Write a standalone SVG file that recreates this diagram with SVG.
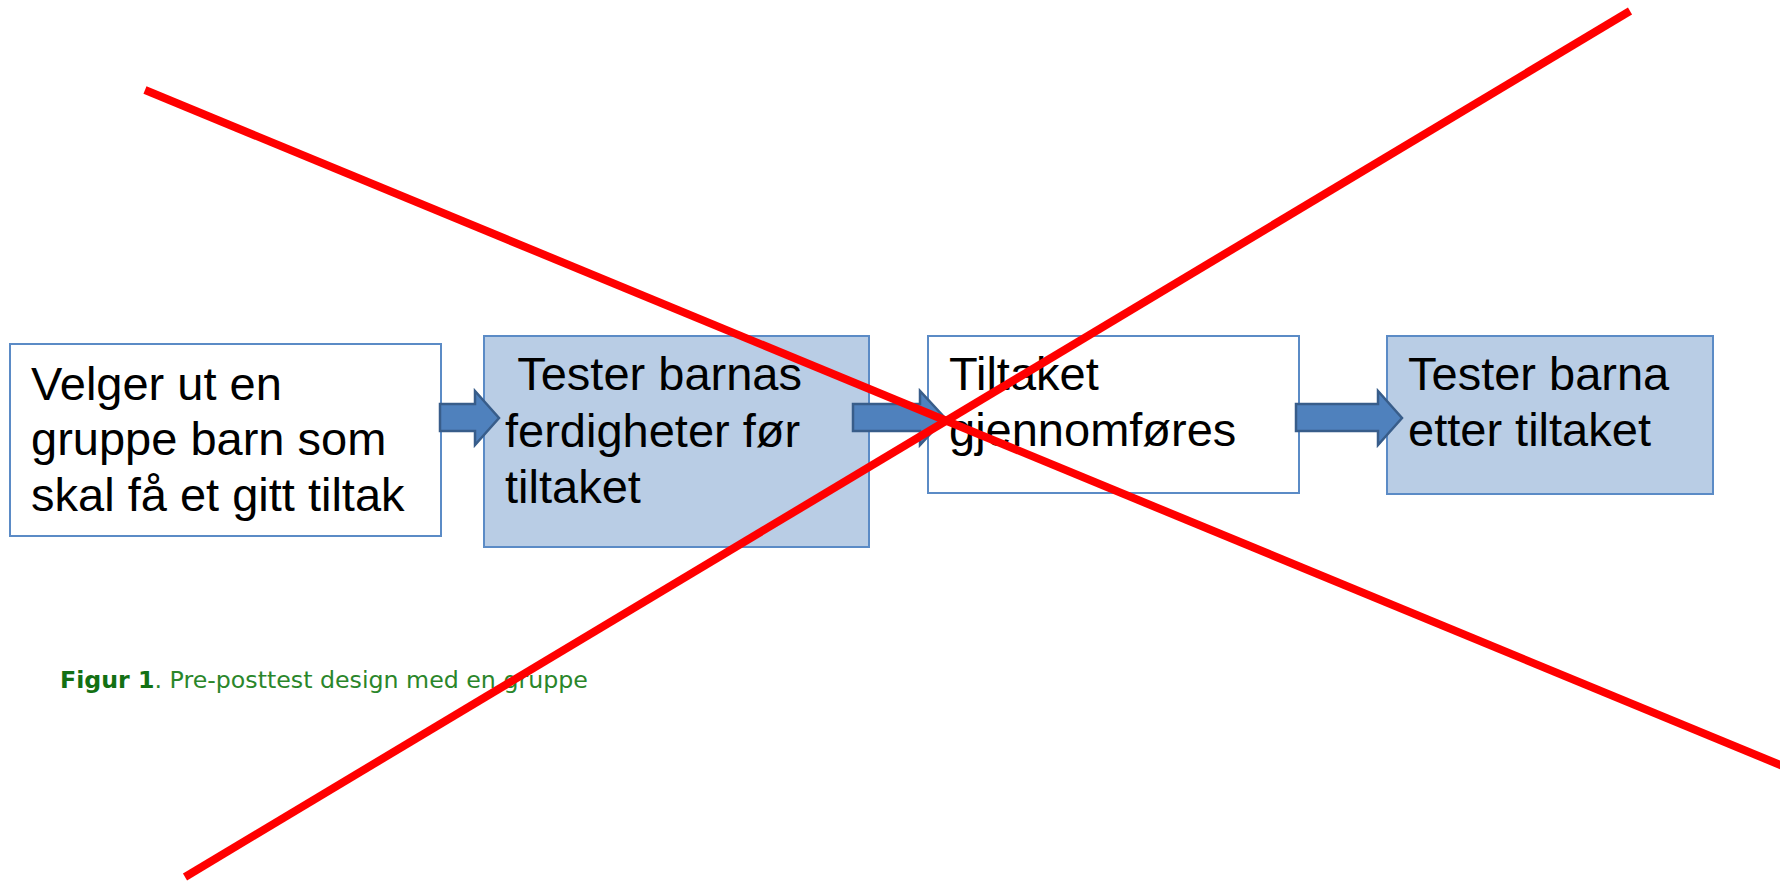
<svg xmlns="http://www.w3.org/2000/svg" width="1780" height="882" viewBox="0 0 1780 882">
<style>
.box{stroke:#5B8BC6;stroke-width:2}
.w{fill:#FFFFFF}
.b{fill:#B9CDE5}
.t{font-family:"Liberation Sans",Arial,sans-serif;font-size:47px;fill:#000000}
.arr{fill:#4F81BD;stroke:#385D8A;stroke-width:2.5;stroke-linejoin:miter}
.cap{font-family:"DejaVu Sans",Verdana,sans-serif;font-size:23.7px;fill:#2A862A}
.x{stroke:#FF0000;stroke-width:8;stroke-linecap:butt;fill:none}
</style>
<rect width="1780" height="882" fill="#FFFFFF"/>
<g id="node1">
<rect class="box w" x="10" y="344" width="431" height="192"/>
<text class="t"><tspan x="31" y="400">Velger ut en</tspan><tspan x="31" y="455">gruppe barn som</tspan><tspan x="31" y="511">skal få et gitt tiltak</tspan></text>
</g>
<g id="node2">
<rect class="box b" x="484" y="336" width="385" height="211"/>
<text class="t" xml:space="preserve"><tspan x="505" y="390"> Tester barnas</tspan><tspan x="505" y="447">ferdigheter før</tspan><tspan x="505" y="503">tiltaket</tspan></text>
</g>
<g id="node3">
<rect class="box w" x="928" y="336" width="371" height="157"/>
<text class="t"><tspan x="949" y="390">Tiltaket</tspan><tspan x="949" y="446">gjennomføres</tspan></text>
</g>
<g id="node4">
<rect class="box b" x="1387" y="336" width="326" height="158"/>
<text class="t"><tspan x="1408" y="390">Tester barna</tspan><tspan x="1408" y="446">etter tiltaket</tspan></text>
</g>
<g id="connectors">
<path class="arr" d="M440,404 H475 V391 L499,418 L475,445 V431 H440 Z"/>
<path class="arr" d="M853,404 H920 V391 L945,418 L920,445 V431 H853 Z"/>
<path class="arr" d="M1296,404 H1378 V391 L1402,418 L1378,445 V431 H1296 Z"/>
</g>
<g id="caption">
<text class="cap" x="60" y="688"><tspan font-weight="bold" fill="#137013">Figur 1</tspan>. Pre-posttest design med en gruppe</text>
</g>
<g id="cross">
<line class="x" x1="145" y1="90" x2="1790" y2="769"/>
<line class="x" x1="185" y1="877" x2="1630" y2="11"/>
</g>
</svg>
